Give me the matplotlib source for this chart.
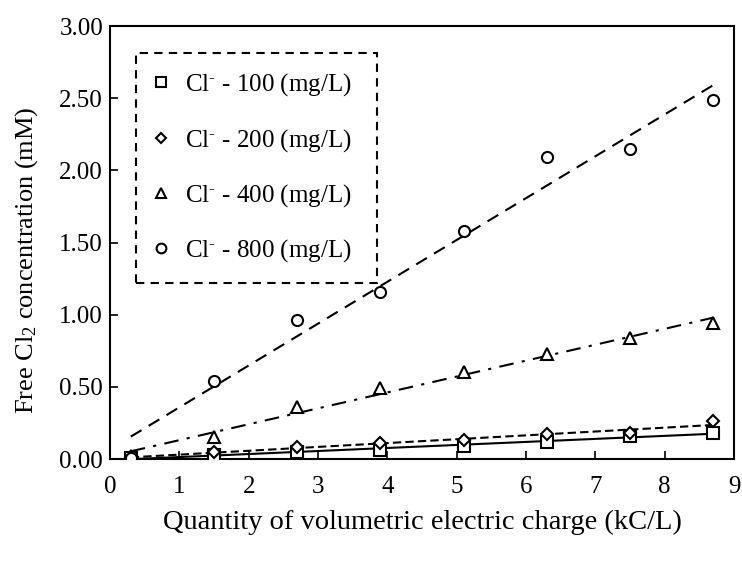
import numpy as np
import matplotlib
matplotlib.use("Agg")
import matplotlib.pyplot as plt
from matplotlib.lines import Line2D

plt.rcParams["font.family"] = ["Liberation Serif", "DejaVu Serif"]
plt.rcParams["mathtext.fontset"] = "custom"
plt.rcParams["mathtext.rm"] = "Liberation Serif"
plt.rcParams["mathtext.it"] = "Liberation Serif:italic"

# Volumetric charge (kC/L)
charge = [0.3, 1.5, 2.7, 3.9, 5.1, 6.3, 7.5, 8.7]

# Free chlorine concentration (mM) for each chloride dose
cl_100 = [0.005, 0.03, 0.05, 0.06, 0.09, 0.12, 0.16, 0.18]
cl_200 = [0.01, 0.05, 0.08, 0.11, 0.13, 0.17, 0.18, 0.26]
cl_400 = [0.02, 0.15, 0.36, 0.49, 0.60, 0.73, 0.84, 0.94]
cl_800 = [0.01, 0.54, 0.96, 1.16, 1.58, 2.09, 2.15, 2.49]

labels = [r"Cl$^{\text{-}}$ - 100 (mg/L)", r"Cl$^{\text{-}}$ - 200 (mg/L)",
          r"Cl$^{\text{-}}$ - 400 (mg/L)", r"Cl$^{\text{-}}$ - 800 (mg/L)"]

x_ticks = list(range(0, 10))
y_ticks = [0.0, 0.5, 1.0, 1.5, 2.0, 2.5, 3.0]

series = [
    (cl_100, "s", 8, "-"),
    (cl_200, "D", 6, (0, (4, 2))),
    (cl_400, "^", 8, (0, (7, 4, 1.5, 4))),
    (cl_800, "o", 8, (0, (6, 4))),
]

fig = plt.figure(figsize=(7.42, 5.61), dpi=100)
ax = fig.add_axes([110 / 742, 1 - 459 / 561, 624 / 742, 433 / 561])

x = np.array(charge)
handles = []
for (vals, mk, ms, ls), lab in zip(series, labels):
    y = np.array(vals)
    slope, icpt = np.polyfit(x, y, 1)
    xf = np.array([x[0], x[-1]])
    ax.plot(xf, slope * xf + icpt, color="black", lw=1.5, linestyle=ls, zorder=2)
    ax.plot(x, y, linestyle="none", marker=mk, ms=ms, mfc="white",
            mec="black", mew=1.5, zorder=3)
    handles.append(Line2D([], [], linestyle="none", marker=mk, ms=ms - 1,
                          mfc="white", mec="black", mew=1.5, label=lab))

ax.set_xlim(0, 9)
ax.set_ylim(0, 3)
ax.set_xticks(x_ticks)
ax.set_yticks(y_ticks)
ax.set_xticklabels([str(t) for t in x_ticks])
ax.set_yticklabels([f"{t:.2f}" for t in y_ticks])
ax.tick_params(direction="in", length=6, width=1.2, labelsize=18)
ax.tick_params(axis="y", pad=5)
ax.tick_params(axis="x", pad=12)
for sp in ax.spines.values():
    sp.set_linewidth(1.5)

ax.set_xlabel("Quantity of volumetric electric charge (kC/L)", fontsize=20.5, labelpad=9)
ax.set_ylabel(r"Free Cl$_2$ concentration (mM)", fontsize=19)
ax.yaxis.set_label_coords(-0.112, 0.46)

# Legend box spans a fixed width; entries stay left-aligned inside it
leg = ax.legend(handles=handles, loc="upper left",
                bbox_to_anchor=(0.042, 0.938, 0.386, 0.0), mode="expand",
                fontsize=18, labelspacing=1.14, handletextpad=0.7,
                handlelength=0.5, borderpad=0.75, fancybox=False,
                framealpha=1, edgecolor="black", borderaxespad=0)
frame = leg.get_frame()
frame.set_linestyle((0, (4, 3)))
frame.set_linewidth(1.5)

fig.savefig("out.png", dpi=100)
